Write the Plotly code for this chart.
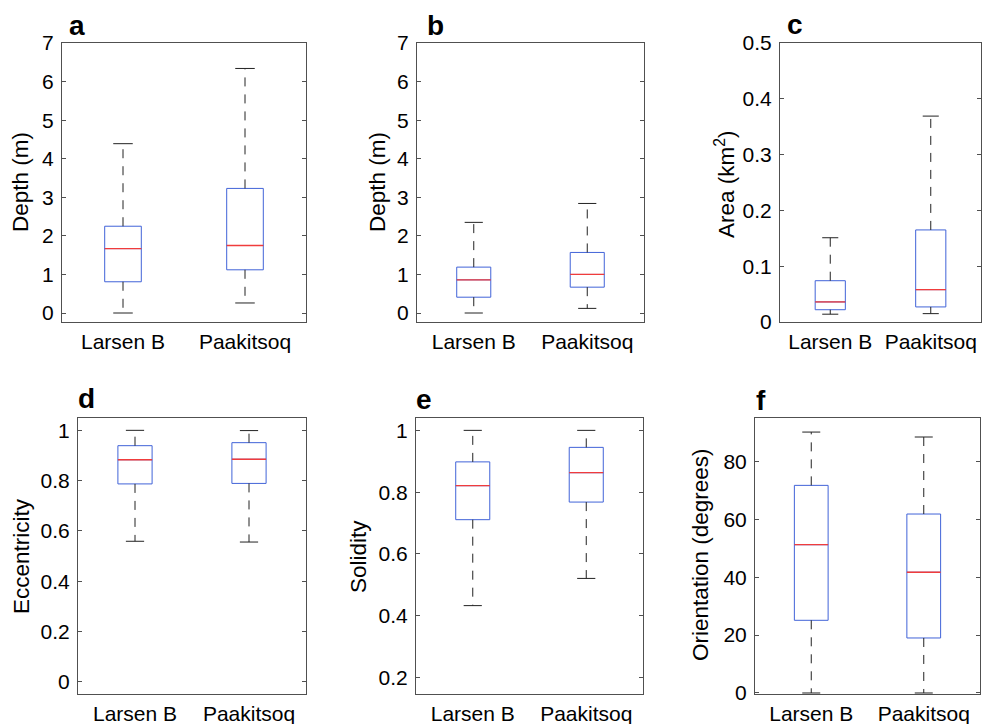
import plotly.graph_objects as go

# ---------------- data ----------------
categories = ["Larsen B", "Paakitsoq"]
positions = [1, 2]

# panel a - depth (m)
a_upper = [4.39, 6.34]
a_q3 = [2.25, 3.23]
a_median = [1.67, 1.75]
a_q1 = [0.81, 1.12]
a_lower = [0.00, 0.26]

# panel b - depth (m)
b_upper = [2.35, 2.84]
b_q3 = [1.19, 1.57]
b_median = [0.86, 1.00]
b_q1 = [0.41, 0.67]
b_lower = [0.00, 0.12]

# panel c - area (km2)
c_upper = [0.151, 0.369]
c_q3 = [0.074, 0.165]
c_median = [0.036, 0.058]
c_q1 = [0.022, 0.027]
c_lower = [0.014, 0.015]

# panel d - eccentricity
d_upper = [1.000, 0.999]
d_q3 = [0.939, 0.951]
d_median = [0.883, 0.885]
d_q1 = [0.787, 0.789]
d_lower = [0.559, 0.556]

# panel e - solidity
e_upper = [1.000, 1.000]
e_q3 = [0.898, 0.945]
e_median = [0.821, 0.863]
e_q1 = [0.711, 0.768]
e_lower = [0.433, 0.521]

# panel f - orientation (degrees)
f_upper = [90.1, 88.4]
f_q3 = [71.7, 61.8]
f_median = [51.2, 41.7]
f_q1 = [25.1, 19.0]
f_lower = [0.0, 0.0]

# tick values / labels
a_ticks = [0, 1, 2, 3, 4, 5, 6, 7]
b_ticks = [0, 1, 2, 3, 4, 5, 6, 7]
c_ticks = [0, 0.1, 0.2, 0.3, 0.4, 0.5]
c_ticklabels = ["0", "0.1", "0.2", "0.3", "0.4", "0.5"]
d_ticks = [0, 0.2, 0.4, 0.6, 0.8, 1]
d_ticklabels = ["0", "0.2", "0.4", "0.6", "0.8", "1"]
e_ticks = [0.2, 0.4, 0.6, 0.8, 1]
e_ticklabels = ["0.2", "0.4", "0.6", "0.8", "1"]
f_ticks = [0, 20, 40, 60, 80]

# ---------------- styling / layout ----------------
W, H = 982, 724
FONT = "Liberation Sans, Arial, Helvetica, sans-serif"
BLUE = "#4163d8"
RED = "#f03c3c"
WHISK = "#222222"
FRAME = "#505050"
BOX_W = 0.30
CAP_W = 0.16

panels = [
    dict(letter="a", title="Depth (m)",
         stats=(a_lower, a_q1, a_median, a_q3, a_upper),
         ticks=a_ticks, ticklabels=[str(t) for t in a_ticks], yrange=[-0.233, 7],
         px=(62, 306), py=(43, 322), title_pos=(20, 182), letter_pos=(67, 36)),
    dict(letter="b", title="Depth (m)",
         stats=(b_lower, b_q1, b_median, b_q3, b_upper),
         ticks=b_ticks, ticklabels=[str(t) for t in b_ticks], yrange=[-0.233, 7],
         px=(417, 644), py=(43, 322), title_pos=(377, 182), letter_pos=(425, 36)),
    dict(letter="c", title="Area (km<sup>2</sup>)",
         stats=(c_lower, c_q1, c_median, c_q3, c_upper),
         ticks=c_ticks, ticklabels=c_ticklabels, yrange=[0, 0.5],
         px=(780, 981), py=(43, 322), title_pos=(725, 184), letter_pos=(785, 35)),
    dict(letter="d", title="Eccentricity",
         stats=(d_lower, d_q1, d_median, d_q3, d_upper),
         ticks=d_ticks, ticklabels=d_ticklabels, yrange=[-0.048, 1.049],
         px=(78, 306), py=(418, 694), title_pos=(21, 556), letter_pos=(76, 409)),
    dict(letter="e", title="Solidity",
         stats=(e_lower, e_q1, e_median, e_q3, e_upper),
         ticks=e_ticks, ticklabels=e_ticklabels, yrange=[0.147, 1.04],
         px=(416, 643), py=(418, 694), title_pos=(358, 557), letter_pos=(414, 410)),
    dict(letter="f", title="Orientation (degrees)",
         stats=(f_lower, f_q1, f_median, f_q3, f_upper),
         ticks=f_ticks, ticklabels=[str(t) for t in f_ticks], yrange=[-0.35, 94.96],
         px=(755, 980), py=(418, 694), title_pos=(700, 555), letter_pos=(754, 411)),
]

fig = go.Figure()
annotations = []
layout = {}

for i, p in enumerate(panels, start=1):
    xa = "x" if i == 1 else f"x{i}"
    ya = "y" if i == 1 else f"y{i}"
    lower, q1, med, q3, upper = p["stats"]

    # dashed whiskers
    wx, wy = [], []
    for k, c in enumerate(positions):
        wx += [c, c, None, c, c, None]
        wy += [q3[k], upper[k], None, q1[k], lower[k], None]
    fig.add_trace(go.Scatter(x=wx, y=wy, mode="lines", xaxis=xa, yaxis=ya,
                             line=dict(color=WHISK, width=1, dash="9px,8px"),
                             showlegend=False, hoverinfo="skip"))
    # whisker caps
    cx, cy = [], []
    for k, c in enumerate(positions):
        cx += [c - CAP_W / 2, c + CAP_W / 2, None, c - CAP_W / 2, c + CAP_W / 2, None]
        cy += [upper[k], upper[k], None, lower[k], lower[k], None]
    fig.add_trace(go.Scatter(x=cx, y=cy, mode="lines", xaxis=xa, yaxis=ya,
                             line=dict(color=WHISK, width=1),
                             showlegend=False, hoverinfo="skip"))
    # box (quartiles)
    fig.add_trace(go.Box(x=positions, q1=q1, median=med, q3=q3,
                         lowerfence=q1, upperfence=q3, width=BOX_W,
                         whiskerwidth=0, boxpoints=False,
                         line=dict(color=BLUE, width=1),
                         fillcolor="rgba(0,0,0,0)", xaxis=xa, yaxis=ya,
                         showlegend=False))
    # red median
    mx, my = [], []
    for k, c in enumerate(positions):
        mx += [c - BOX_W / 2, c + BOX_W / 2, None]
        my += [med[k], med[k], None]
    fig.add_trace(go.Scatter(x=mx, y=my, mode="lines", xaxis=xa, yaxis=ya,
                             line=dict(color=RED, width=1.3),
                             showlegend=False, hoverinfo="skip"))

    x0, x1 = p["px"]
    y0, y1 = p["py"]
    layout["xaxis" if i == 1 else f"xaxis{i}"] = dict(
        domain=[x0 / W, x1 / W], anchor=ya, range=[0.5, 2.5], automargin=False,
        tickmode="array", tickvals=positions, ticktext=categories,
        ticks="", showline=True, mirror=True, linecolor=FRAME, linewidth=1,
        showgrid=False, zeroline=False, ticklabelstandoff=1,
        tickfont=dict(family=FONT, size=21, color="#000000"))
    layout["yaxis" if i == 1 else f"yaxis{i}"] = dict(
        domain=[1 - y1 / H, 1 - y0 / H], anchor=xa, range=p["yrange"], automargin=False,
        tickmode="array", tickvals=p["ticks"], ticktext=p["ticklabels"],
        ticks="inside", ticklen=4, tickcolor=FRAME, showline=True, mirror="ticks",
        linecolor=FRAME, linewidth=1, showgrid=False, zeroline=False,
        ticklabelstandoff=3,
        tickfont=dict(family=FONT, size=21, color="#000000"))

    tx, ty = p["title_pos"]
    annotations.append(dict(text=p["title"], x=tx / W, y=1 - ty / H, xref="paper", yref="paper",
                            textangle=-90, xanchor="center", yanchor="middle", showarrow=False,
                            font=dict(family=FONT, size=22.5, color="#000000")))
    lx, ly = p["letter_pos"]
    annotations.append(dict(text=f"<b>{p['letter']}</b>", x=lx / W, y=1 - (ly + 7) / H,
                            xref="paper", yref="paper", xanchor="left", yanchor="bottom",
                            showarrow=False, font=dict(family=FONT, size=28, color="#000000")))

fig.update_layout(width=W, height=H, autosize=False,
                  margin=dict(l=0, r=0, t=0, b=0, autoexpand=False),
                  paper_bgcolor="white", plot_bgcolor="white",
                  annotations=annotations, showlegend=False, **layout)

# the page's default 8px body margin would shift the 982x724 figure off the window
fig.write_html("out.html", config={"displayModeBar": False},
               post_script="document.body.style.margin='0';document.body.style.overflow='hidden';")
